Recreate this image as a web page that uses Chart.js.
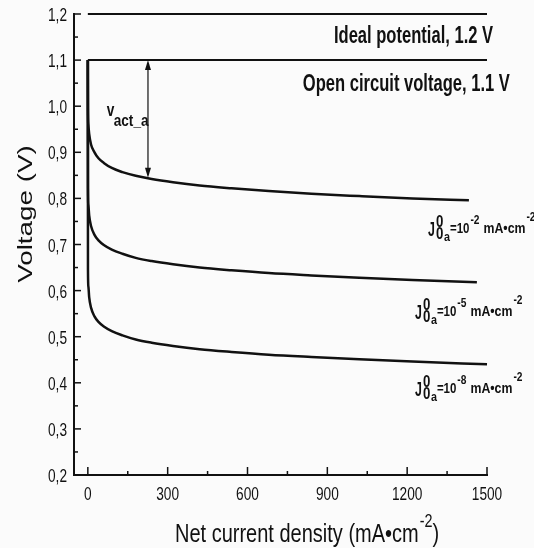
<!DOCTYPE html>
<html>
<head>
<meta charset="utf-8">
<script src="https://cdn.jsdelivr.net/npm/chart.js@4.4.1/dist/chart.umd.min.js"></script>
<style>
  html, body { margin: 0; padding: 0; background: #fbfbfb; }
  #chart { display: block; }
</style>
</head>
<body>
<canvas id="chart" width="534" height="548"></canvas>
<script>
// net current density (mA/cm2) -> voltage (V)
var jCurve1 = [0, 0.5, 2, 5, 12, 25, 40, 60, 90, 130, 180, 240, 320, 420, 540, 680, 840, 1020, 1220, 1432];
var vCurve1 = [1.1, 0.995, 0.96, 0.94, 0.917, 0.9, 0.887, 0.877, 0.866, 0.857, 0.849, 0.842, 0.835, 0.828, 0.822, 0.816, 0.81, 0.805, 0.8, 0.796];
var jCurve2 = [0, 0.5, 2, 5, 12, 25, 40, 60, 90, 130, 180, 240, 320, 420, 540, 680, 840, 1020, 1220, 1462];
var vCurve2 = [1.1, 0.822, 0.786, 0.763, 0.74, 0.721, 0.709, 0.699, 0.689, 0.68, 0.671, 0.664, 0.657, 0.65, 0.644, 0.638, 0.633, 0.628, 0.623, 0.618];
var jCurve3 = [0, 0.5, 2, 5, 12, 25, 40, 60, 90, 130, 180, 240, 320, 420, 540, 680, 840, 1020, 1220, 1500];
var vCurve3 = [1.1, 0.645, 0.609, 0.586, 0.563, 0.544, 0.532, 0.522, 0.512, 0.503, 0.494, 0.487, 0.48, 0.473, 0.467, 0.461, 0.456, 0.451, 0.446, 0.44];

var refJ = [0, 1500];
var idealV = [1.2, 1.2];
var ocvV = [1.1, 1.1];

var xTicks = [0, 300, 600, 900, 1200, 1500];
var yTicks = [0.2, 0.3, 0.4, 0.5, 0.6, 0.7, 0.8, 0.9, 1.0, 1.1, 1.2];

// activation loss arrow (j, top V, bottom V)
var arrowJ = 226;
var arrowTop = 1.1;
var arrowBottom = 0.845;

// exchange current density exponents for the three curves
var j0Exp = ['-2', '-5', '-8'];
var j0LabelJ = [1278, 1229, 1229];
var j0LabelV = [0.736, 0.556, 0.389];

function pts(xs, ys) {
    return xs.map(function (x, i) { return { x: x, y: ys[i] }; });
}

var FONT = '"Liberation Sans", Arial, sans-serif';
var INK = '#111';

function txt(ctx, s, x, y, size, bold, sx, align) {
    ctx.save();
    ctx.font = (bold ? 'bold ' : '') + size + 'px ' + FONT;
    ctx.fillStyle = INK;
    ctx.textBaseline = 'alphabetic';
    ctx.textAlign = align || 'left';
    ctx.translate(x, y);
    ctx.scale(sx, 1);
    ctx.fillText(s, 0, 0);
    var w = ctx.measureText(s).width * sx;
    ctx.restore();
    return w;
}

function lineOpts(data, w) {
    return {
        data: data,
        showLine: true,
        borderColor: INK,
        borderWidth: w,
        pointRadius: 0,
        cubicInterpolationMode: 'monotone',
        clip: false
    };
}

var decor = {
    id: 'decor',
    afterDatasetsDraw: function (chart) {
        var ctx = chart.ctx;
        var xs = chart.scales.x, ys = chart.scales.y;
        var area = chart.chartArea;
        ctx.save();
        ctx.strokeStyle = INK;
        ctx.lineWidth = 1.5;

        // inward ticks
        xTicks.forEach(function (v, i) {
            var px = xs.getPixelForValue(v);
            ctx.beginPath(); ctx.moveTo(px, area.bottom); ctx.lineTo(px, area.bottom - 8); ctx.stroke();
            if (i < xTicks.length - 1) {
                var mx = xs.getPixelForValue((v + xTicks[i + 1]) / 2);
                ctx.beginPath(); ctx.moveTo(mx, area.bottom); ctx.lineTo(mx, area.bottom - 4); ctx.stroke();
            }
            txt(ctx, String(v), px, area.bottom + 25, 19, false, 0.72, 'center');
        });
        yTicks.forEach(function (v, i) {
            var py = ys.getPixelForValue(v);
            ctx.beginPath(); ctx.moveTo(area.left, py); ctx.lineTo(area.left + 7, py); ctx.stroke();
            if (i < yTicks.length - 1) {
                var my = ys.getPixelForValue((v + yTicks[i + 1]) / 2);
                ctx.beginPath(); ctx.moveTo(area.left, my); ctx.lineTo(area.left + 4, my); ctx.stroke();
            }
            txt(ctx, v.toFixed(1).replace('.', ','), area.left - 7, py + 7, 19, false, 0.72, 'right');
        });

        // axis titles
        var x0 = 175, by = 542;
        x0 += txt(ctx, 'Net current density (mA\u2022cm', x0, by, 25, false, 0.8);
        x0 += txt(ctx, '-2', x0 + 1, by - 15, 18, false, 0.8) + 1;
        txt(ctx, ')', x0, by, 25, false, 0.8);

        ctx.save();
        ctx.translate(32, 214);
        ctx.rotate(-Math.PI / 2);
        ctx.scale(1.03, 0.76);
        ctx.font = '27px ' + FONT;
        ctx.fillStyle = INK;
        ctx.textAlign = 'center';
        ctx.fillText('Voltage (V)', 0, 0);
        ctx.restore();

        // reference line notes
        txt(ctx, 'Ideal potential, 1.2 V', xs.getPixelForValue(1523), ys.getPixelForValue(1.154) + 8, 23, true, 0.72, 'right');
        txt(ctx, 'Open circuit voltage, 1.1 V', xs.getPixelForValue(1586), ys.getPixelForValue(1.05) + 8, 23, true, 0.72, 'right');

        // activation loss arrow
        var ax = xs.getPixelForValue(arrowJ);
        var ay1 = ys.getPixelForValue(arrowTop), ay2 = ys.getPixelForValue(arrowBottom);
        ctx.lineWidth = 1.2;
        ctx.beginPath(); ctx.moveTo(ax, ay1 + 4); ctx.lineTo(ax, ay2 - 4); ctx.stroke();
        ctx.fillStyle = INK;
        ctx.beginPath(); ctx.moveTo(ax, ay1); ctx.lineTo(ax - 3, ay1 + 10); ctx.lineTo(ax + 3, ay1 + 10); ctx.closePath(); ctx.fill();
        ctx.beginPath(); ctx.moveTo(ax, ay2); ctx.lineTo(ax - 3, ay2 - 10); ctx.lineTo(ax + 3, ay2 - 10); ctx.closePath(); ctx.fill();

        var vx = xs.getPixelForValue(71), vy = ys.getPixelForValue(0.979);
        txt(ctx, 'v', vx, vy, 19, true, 0.72);
        txt(ctx, 'act_a', vx + 7, vy + 10, 17, true, 0.8);

        // exchange current density labels
        j0Exp.forEach(function (e, i) {
            var lx = xs.getPixelForValue(j0LabelJ[i]);
            var cy = ys.getPixelForValue(j0LabelV[i]);
            txt(ctx, 'J', lx, cy + 8, 20, true, 0.62);
            txt(ctx, '0', lx + 8, cy - 1, 17, true, 0.78);
            txt(ctx, '0', lx + 8, cy + 11, 17, true, 0.78);
            txt(ctx, 'a', lx + 16, cy + 13, 12, true, 0.9);
            var p = lx + 22;
            p += txt(ctx, '=10', p, cy + 5, 14, true, 0.82);
            p += txt(ctx, e, p + 1, cy - 4, 12, true, 0.85) + 5;
            p += txt(ctx, 'mA\u2022cm', p, cy + 5, 14, true, 0.88);
            txt(ctx, '-2', p + 1, cy - 7, 12, true, 0.85);
        });
        ctx.restore();
    }
};

new Chart(document.getElementById('chart'), {
    type: 'scatter',
    data: {
        datasets: [
            lineOpts(pts(refJ, idealV), 2),
            lineOpts(pts(refJ, ocvV), 2),
            lineOpts(pts(jCurve1, vCurve1), 2.5),
            lineOpts(pts(jCurve2, vCurve2), 2.5),
            lineOpts(pts(jCurve3, vCurve3), 2.5)
        ]
    },
    options: {
        responsive: false,
        animation: false,
        layout: { padding: { top: 14, right: 47, left: 0, bottom: 0 } },
        plugins: { legend: { display: false }, tooltip: { enabled: false } },
        scales: {
            x: {
                type: 'linear',
                min: -52,
                max: 1500,
                grid: { display: false },
                border: { display: true, color: INK, width: 2 },
                ticks: { display: false },
                afterFit: function (s) { s.height = 73; }
            },
            y: {
                type: 'linear',
                min: 0.2,
                max: 1.2,
                grid: { display: false },
                border: { display: true, color: INK, width: 2 },
                ticks: { display: false },
                afterFit: function (s) { s.width = 74; }
            }
        }
    },
    plugins: [decor]
});
</script>
</body>
</html>
